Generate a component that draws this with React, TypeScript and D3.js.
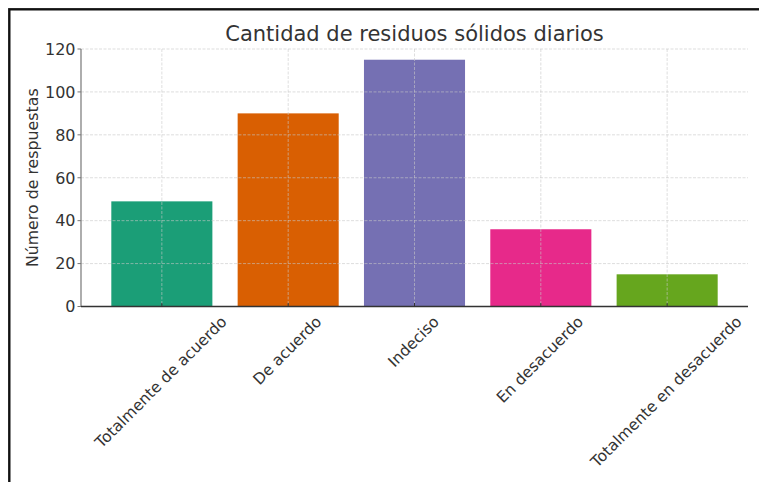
import React, { useEffect, useRef } from "react";
import * as d3 from "d3";

const categories = [
  "Totalmente de acuerdo",
  "De acuerdo",
  "Indeciso",
  "En desacuerdo",
  "Totalmente en desacuerdo",
];
const values = [49, 90, 115, 36, 15];
const yTicks = [0, 20, 40, 60, 80, 100, 120];
const colors = ["#1b9e77", "#d95f02", "#7570b3", "#e7298a", "#66a61e"];
const titleText = "Cantidad de residuos sólidos diarios";
const yLabelText = "Número de respuestas";

const W = 759;
const H = 482;
const FONT = "DejaVu Sans, sans-serif";

export default function App() {
  const ref = useRef<SVGSVGElement | null>(null);

  useEffect(() => {
    const svg = d3.select(ref.current);
    svg.selectAll("*").remove();

    const left = 81, right = 748, top = 49, bottom = 306.5;
    const x = d3
      .scaleBand<string>()
      .domain(categories)
      .range([left, right])
      .paddingInner(0.2)
      .paddingOuter(0.24);
    const y = d3.scaleLinear().domain([0, 120]).range([bottom, top]);

    svg.append("rect").attr("x", 0).attr("y", 0).attr("width", W).attr("height", H).attr("fill", "#fff");

    // bars
    svg
      .append("g")
      .selectAll("rect")
      .data(categories)
      .join("rect")
      .attr("x", (d) => x(d)!)
      .attr("width", x.bandwidth())
      .attr("y", (d, i) => y(values[i]))
      .attr("height", (d, i) => y(0) - y(values[i]))
      .attr("fill", (d, i) => colors[i]);

    // grid
    const grid = svg.append("g").attr("stroke", "#c8c8c8").attr("stroke-opacity", 0.75).attr("stroke-width", 0.8).attr("stroke-dasharray", "3,1.5");
    grid
      .selectAll("line.h")
      .data(yTicks.filter((t) => t > 0))
      .join("line")
      .attr("x1", left)
      .attr("x2", right)
      .attr("y1", (d) => y(d))
      .attr("y2", (d) => y(d));
    grid
      .selectAll("line.v")
      .data(categories)
      .join("line")
      .attr("x1", (d) => x(d)! + x.bandwidth() / 2)
      .attr("x2", (d) => x(d)! + x.bandwidth() / 2)
      .attr("y1", top)
      .attr("y2", bottom);

    // spines
    svg.append("line").attr("x1", left).attr("x2", left).attr("y1", top).attr("y2", bottom).attr("stroke", "#777").attr("stroke-width", 1.2);
    svg.append("line").attr("x1", left).attr("x2", right).attr("y1", bottom).attr("y2", bottom).attr("stroke", "#333").attr("stroke-width", 1.6);

    // y ticks
    const yg = svg.append("g");
    yg.selectAll("line")
      .data(yTicks)
      .join("line")
      .attr("x1", left - 3.5)
      .attr("x2", left)
      .attr("y1", (d) => y(d))
      .attr("y2", (d) => y(d))
      .attr("stroke", "#777")
      .attr("stroke-width", 1);
    yg.selectAll("text")
      .data(yTicks)
      .join("text")
      .attr("x", left - 5.5)
      .attr("y", (d) => y(d))
      .attr("dy", "0.36em")
      .attr("text-anchor", "end")
      .attr("font-family", FONT)
      .attr("font-size", 16)
      .attr("fill", "#333")
      .text((d) => String(d));

    // x ticks (inward)
    svg
      .append("g")
      .selectAll("line")
      .data(categories)
      .join("line")
      .attr("x1", (d) => x(d)! + x.bandwidth() / 2)
      .attr("x2", (d) => x(d)! + x.bandwidth() / 2)
      .attr("y1", bottom)
      .attr("y2", bottom - 3.5)
      .attr("stroke", "#333")
      .attr("stroke-width", 1);

    // x labels rotated 45, centered bbox on tick
    const fs = 15.5;
    const labTop = bottom + 6;
    const xl = svg.append("g");
    categories.forEach((c) => {
      const t = xl
        .append("text")
        .attr("font-family", FONT)
        .attr("font-size", fs)
        .attr("fill", "#333")
        .attr("text-anchor", "middle")
        .attr("dy", "0.346em")
        .text(c);
      const L = (t.node() as SVGTextElement).getComputedTextLength();
      const Ht = fs * 1.164;
      const bh = (L + Ht) / Math.SQRT2;
      const cx = x(c)! + x.bandwidth() / 2 - 1;
      const cy = labTop + bh / 2;
      t.attr("transform", `translate(${cx},${cy}) rotate(-45)`);
    });

    // y label
    svg
      .append("text")
      .attr("transform", `translate(38,${(top + bottom) / 2}) rotate(-90)`)
      .attr("text-anchor", "middle")
      .attr("font-family", FONT)
      .attr("font-size", 15.8)
      .attr("fill", "#333")
      .text(yLabelText);

    // title
    svg
      .append("text")
      .attr("x", (left + right) / 2)
      .attr("y", 41)
      .attr("text-anchor", "middle")
      .attr("font-family", FONT)
      .attr("font-size", 21)
      .attr("fill", "#333")
      .text(titleText);

    // outer border (top and left visible)
    svg
      .append("rect")
      .attr("x", 9.3)
      .attr("y", 9.3)
      .attr("width", W + 20)
      .attr("height", H + 20)
      .attr("fill", "none")
      .attr("stroke", "#111")
      .attr("stroke-width", 2.4);
  }, []);

  return (
    <svg
      ref={ref}
      width={W}
      height={H}
      style={{ position: "absolute", left: 0, top: 0, display: "block" }}
    />
  );
}
